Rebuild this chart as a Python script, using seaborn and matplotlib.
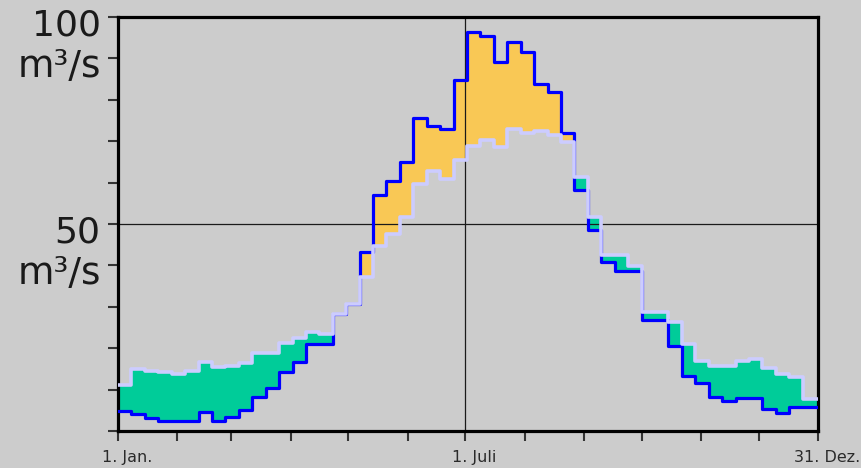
import numpy as np
import pandas as pd
import seaborn as sns
import matplotlib
matplotlib.use("Agg")
import matplotlib.pyplot as plt
from matplotlib.transforms import ScaledTranslation

# Weekly discharge in m³/s (52 weeks, 1 Jan .. 31 Dec)
mittel = [11.0, 15.0, 14.6, 14.3, 13.8, 14.6, 16.7, 15.4, 15.8, 16.4,
          18.8, 18.8, 21.3, 22.4, 24.0, 23.4, 28.3, 30.7, 37.2, 44.7,
          47.7, 51.8, 59.7, 62.9, 60.8, 65.5, 68.8, 70.2, 68.7, 72.9,
          72.0, 72.5, 71.5, 69.7, 61.3, 51.8, 42.6, 42.6, 39.9, 28.7,
          28.7, 26.4, 21.0, 16.9, 15.6, 15.6, 16.9, 17.3, 15.3, 13.8,
          13.0, 7.8]
aktuell = [4.9, 4.1, 3.2, 2.5, 2.5, 2.5, 4.6, 2.3, 3.3, 5.1,
           8.3, 10.5, 14.3, 16.7, 21.0, 21.0, 28.3, 30.7, 43.3, 57.0,
           60.5, 65.0, 75.7, 73.7, 72.9, 84.9, 96.3, 95.5, 89.2, 93.9,
           91.6, 83.8, 81.8, 72.1, 58.1, 48.6, 40.9, 38.7, 38.7, 26.8,
           26.8, 20.6, 13.3, 11.6, 8.1, 7.3, 7.9, 7.9, 5.2, 4.4,
           5.7, 5.7]

# Day of year at each month start, plus year end
x_ticks = [0, 31, 59, 90, 120, 151, 181, 212, 243, 273, 304, 334, 365]
x_labels = ["1. Jan.", "", "", "", "", "", "1. Juli", "", "", "", "", "", "31. Dez."]
y_ticks = list(range(0, 101, 10))
y_labels = {100: "100", 90: "m³/s", 50: "50", 40: "m³/s"}

BG = "#cccccc"
BLUE = "#0000ff"
LAVENDER = "#ccccff"
GREEN = "#00cc99"
ORANGE = "#f9c855"

sns.set_style("white", {"axes.facecolor": BG, "figure.facecolor": BG})
plt.rcParams["font.family"] = ["DejaVu Sans"]

fig = plt.figure(figsize=(8.62, 4.68), dpi=100)
ax = fig.add_axes([118 / 862, 1 - 431 / 468, 700 / 862, 414 / 468])
ax.set_facecolor(BG)

n = len(mittel)
edges = np.minimum(np.arange(n + 1) * 7, 365)
edges[-1] = 365
df = pd.DataFrame({
    "tag": np.concatenate([edges, edges]),
    "abfluss": np.concatenate([mittel + [mittel[-1]], aktuell + [aktuell[-1]]]),
    "reihe": ["Mittel"] * (n + 1) + ["Aktuell"] * (n + 1),
})

# Step outlines for the filled surplus / deficit areas
xs = np.column_stack([edges[:-1], edges[1:]]).ravel()
m_s = np.repeat(mittel, 2)
a_s = np.repeat(aktuell, 2)
ax.fill_between(xs, m_s, a_s, where=a_s >= m_s, color=ORANGE, lw=0, zorder=1)
ax.fill_between(xs, m_s, a_s, where=a_s <= m_s, color=GREEN, lw=0, zorder=1)

# Reference cross lines (50 m³/s and 1 July)
ax.axhline(50, color="#1a1a1a", lw=0.9, zorder=2)
ax.axvline(181, color="#1a1a1a", lw=0.9, zorder=2)

sns.lineplot(data=df[df.reihe == "Aktuell"], x="tag", y="abfluss",
             drawstyle="steps-post", color=BLUE, lw=2.3, ax=ax,
             estimator=None, zorder=3)
sns.lineplot(data=df[df.reihe == "Mittel"], x="tag", y="abfluss",
             drawstyle="steps-post", color=LAVENDER, lw=2.6, ax=ax,
             estimator=None, zorder=4)

ax.set_xlim(0, 365)
ax.set_ylim(0, 100)
ax.set_xlabel("")
ax.set_ylabel("")

for s in ax.spines.values():
    s.set_visible(True)
    s.set_color("black")
    s.set_linewidth(2.3)

ax.set_xticks(x_ticks)
ax.set_xticklabels(x_labels)
ax.set_yticks(y_ticks)
ax.set_yticklabels([y_labels.get(v, "") for v in y_ticks])

ax.tick_params(axis="y", left=True, direction="out", length=7.5, width=1.5,
               color="#333333", pad=5, labelcolor="#1a1a1a")
ax.tick_params(axis="x", bottom=True, direction="out", length=7.5, width=1.5,
               color="#333333", pad=6, labelcolor="#2a2a2a", labelsize=11.5)

shift_y = ScaledTranslation(0, -0.185, fig.dpi_scale_trans)
for lab, v in zip(ax.get_yticklabels(), y_ticks):
    lab.set_verticalalignment("baseline")
    lab.set_fontsize(26 if v in (100, 50) else 27)
    lab.set_transform(lab.get_transform() + shift_y)

shift_x = ScaledTranslation(0.09, 0, fig.dpi_scale_trans)
for lab in ax.get_xticklabels():
    lab.set_transform(lab.get_transform() + shift_x)

fig.savefig("out.png", dpi=100, facecolor=BG)
